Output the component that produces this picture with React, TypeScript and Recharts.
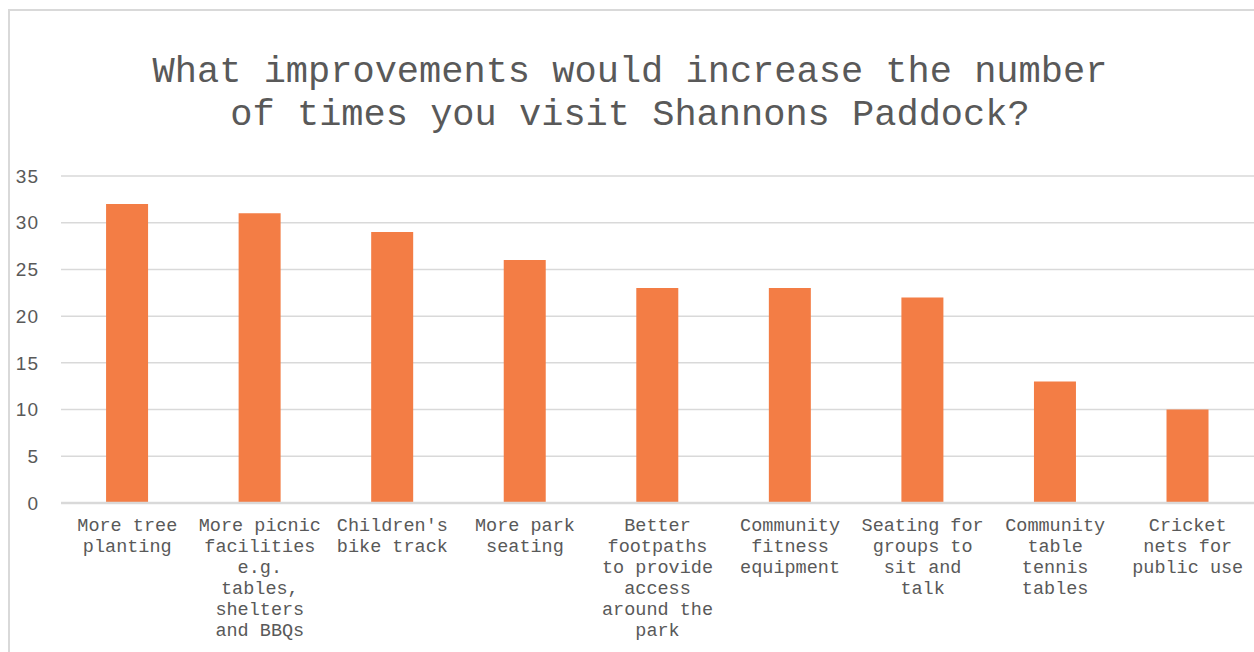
import React from "react";
import { BarChart, Bar, XAxis, YAxis, CartesianGrid } from "recharts";

const categories = [
  "More tree planting",
  "More picnic facilities e.g. tables, shelters and BBQs",
  "Children's bike track",
  "More park seating",
  "Better footpaths to provide access around the park",
  "Community fitness equipment",
  "Seating for groups to sit and talk",
  "Community table tennis tables",
  "Cricket nets for public use",
];
const labelLines = [
  ["More tree", "planting"],
  ["More picnic", "facilities", "e.g.", "tables,", "shelters", "and BBQs"],
  ["Children's", "bike track"],
  ["More park", "seating"],
  ["Better", "footpaths", "to provide", "access", "around the", "park"],
  ["Community", "fitness", "equipment"],
  ["Seating for", "groups to", "sit and", "talk"],
  ["Community", "table", "tennis", "tables"],
  ["Cricket", "nets for", "public use"],
];
const values = [32, 31, 29, 26, 23, 23, 22, 13, 10];
const yTicks = [0, 5, 10, 15, 20, 25, 30, 35];
const titleLines = [
  "What improvements would increase the number",
  "of times you visit Shannons Paddock?",
];

const data = categories.map((c, i) => ({ name: c, value: values[i], idx: i }));

const MONO = "'Liberation Mono', 'Courier New', monospace";
const TEXT = "#595959";

const XTick = (props: any) => {
  const { x, y, payload } = props;
  const lines = labelLines[payload.index] || [payload.value];
  return (
    <g>
      {lines.map((l: string, i: number) => (
        <text
          key={i}
          x={x}
          y={y + 20 + i * 21}
          textAnchor="middle"
          fontFamily={MONO}
          fontSize={18.5}
          fill={TEXT}
        >
          {l}
        </text>
      ))}
    </g>
  );
};

export default function App() {
  return (
    <div style={{ position: "absolute", left: 0, top: 0, width: 1254, height: 652, overflow: "hidden", background: "#fff" }}>
      <div
        style={{
          position: "absolute",
          left: 8,
          top: 9,
          width: 1270,
          height: 670,
          border: "2px solid #d9d9d9",
          boxSizing: "border-box",
        }}
      />
      <svg style={{ position: "absolute", left: 0, top: 0 }} width={1254} height={160}>
        {titleLines.map((t, i) => (
          <text
            key={i}
            x={630}
            y={82 + i * 43}
            textAnchor="middle"
            fontFamily={MONO}
            fontSize={37}
            fill={TEXT}
          >
            {t}
          </text>
        ))}
      </svg>
      <div style={{ position: "absolute", left: 0, top: 0 }}>
        <BarChart
          width={1254}
          height={652}
          data={data}
          margin={{ top: 176, right: 0, left: 0, bottom: 0 }}
          barCategoryGap="34%"
        >
          <CartesianGrid vertical={false} stroke="#d9d9d9" strokeWidth={1.5} />
          <XAxis
            dataKey="name"
            interval={0}
            height={149}
            tick={<XTick />}
            tickLine={false}
            axisLine={{ stroke: "#d9d9d9", strokeWidth: 2.5 }}
          />
          <YAxis
            width={61}
            domain={[0, 35]}
            ticks={yTicks}
            tickLine={false}
            axisLine={false}
            tickSize={0}
            tickMargin={22}
            tick={{ fill: TEXT, fontSize: 19, fontFamily: "'Liberation Sans', Arial, sans-serif", letterSpacing: 1 }}
          />
          <Bar dataKey="value" fill="#F37D45" isAnimationActive={false} />
        </BarChart>
      </div>
    </div>
  );
}
